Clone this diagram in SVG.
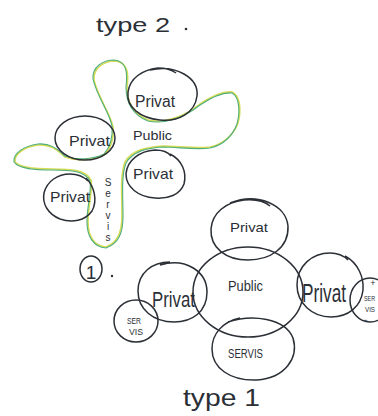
<svg xmlns="http://www.w3.org/2000/svg" width="378" height="416" viewBox="0 0 378 416">
<style>
.c{fill:none;stroke:#2b2f36;stroke-width:1.5}
.t{font-family:"Liberation Sans",Arial,sans-serif;fill:#2b2f36}
.g1{fill:none;stroke:#d6dc55;stroke-width:1.6;stroke-linejoin:round}
.g2{fill:none;stroke:#4fae7a;stroke-width:1.1;stroke-linejoin:round}
</style>
<rect width="378" height="416" fill="#ffffff"/>
<text class="t" x="96" y="32" font-size="21" textLength="74" lengthAdjust="spacingAndGlyphs">type 2</text>
<circle cx="186" cy="29" r="1.3" fill="#2b2f36"/>
<g id="connectors">
<path id="public-area" class="g1" d="M113,127 C110,112 98,98 94,80 C93,68 104,61 115,61 C127,62 129,72 127,88 C127,103 134,114 148,120 C165,124 185,116 200,104 C212,96 222,91 232,92 C241,96 241,112 238,123 C234,134 224,144 210,147 C195,149 178,146 163,146 C147,147 132,150 125,162 C120,175 122,195 122,215 C122,232 118,242 106,247 C94,246 88,236 88,222 C88,205 93,190 91,180 C86,170 72,169 52,169 C35,169 20,168 15,162 C14,154 24,147 38,145 C52,144 58,151 65,157 C76,161 92,161 104,155 C111,148 114,138 113,127 Z"/>
<path class="g2" d="M112,126 C109,111 97,97 93,79 C92,67 103,60 114,60 C126,61 128,71 126,87 C126,103 133,115 148,121 C165,125 185,117 200,105 C212,97 222,92 232,93 C240,97 240,113 237,124 C233,135 224,145 210,148 C195,150 178,147 163,147 C147,148 133,151 126,163 C121,176 123,196 123,216 C123,233 119,243 106,248 C93,247 87,236 87,222 C87,205 92,190 90,181 C85,171 72,170 52,170 C35,170 19,169 14,162 C13,153 24,146 38,144 C52,143 58,150 65,156 C76,160 92,160 104,154 C110,147 113,137 112,126 Z"/>
</g>
<g id="t2-privat-top">
<path class="c" d="M150,70 C176,64 199,78 197,96 C195,113 178,122 160,120 C140,118 126,107 128,92 C130,78 142,70 158,68 C168,68 172,70 176,73"/>
<text class="t" x="135" y="107" font-size="16" textLength="40" lengthAdjust="spacingAndGlyphs">Privat</text>
</g>
<g id="t2-privat-left">
<ellipse class="c" cx="85" cy="138" rx="30" ry="22"/>
<text class="t" x="69" y="146" font-size="15" textLength="41" lengthAdjust="spacingAndGlyphs">Privat</text>
</g>
<g id="t2-public">
<text class="t" x="133" y="140" font-size="13" textLength="39" lengthAdjust="spacingAndGlyphs">Public</text>
</g>
<g id="t2-privat-right">
<path class="c" d="M170,154 C182,160 187,172 184,184 C180,195 168,199 155,198 C138,197 126,187 126,174 C127,160 140,151 155,150 C163,150 168,152 171,156"/>
<text class="t" x="133" y="179" font-size="15" textLength="40" lengthAdjust="spacingAndGlyphs">Privat</text>
</g>
<g id="t2-privat-bottom">
<path class="c" d="M86,178 C94,186 98,200 92,211 C85,221 72,223 60,219 C48,214 42,204 44,193 C47,181 58,174 70,174 C78,174 84,177 88,181"/>
<text class="t" x="50" y="202" font-size="14" textLength="40" lengthAdjust="spacingAndGlyphs">Privat</text>
</g>
<g id="t2-servis">
<text class="t" font-size="10" text-anchor="middle"><tspan x="108" y="186">S</tspan><tspan x="108" y="197">e</tspan><tspan x="108" y="208">r</tspan><tspan x="108" y="219">v</tspan><tspan x="108" y="230">i</tspan><tspan x="108" y="241">s</tspan></text>
</g>
<g id="label-1">
<ellipse class="c" cx="91" cy="269" rx="11" ry="13"/>
<text class="t" x="91" y="279" font-size="19" text-anchor="middle">1</text>
<circle cx="112" cy="276" r="1.2" fill="#2b2f36"/>
</g>
<g id="t1-public">
<ellipse class="c" cx="248" cy="292" rx="55" ry="45"/>
<text class="t" x="228" y="291" font-size="15" textLength="35" lengthAdjust="spacingAndGlyphs">Public</text>
</g>
<g id="t1-privat-top">
<path class="c" d="M230,203 C258,192 286,205 288,226 C289,248 270,260 248,260 C226,260 210,248 211,229 C212,213 226,202 244,200 C255,199 263,200 270,206"/>
<text class="t" x="230" y="232" font-size="13" textLength="38" lengthAdjust="spacingAndGlyphs">Privat</text>
</g>
<g id="t1-privat-left">
<path class="c" d="M160,265 C186,257 207,272 207,292 C207,312 192,322 174,322 C153,322 138,309 138,291 C138,273 152,262 170,262"/>
<text class="t" x="152" y="307" font-size="22" textLength="43" lengthAdjust="spacingAndGlyphs">Privat</text>
</g>
<g id="t1-servis-left">
<ellipse class="c" cx="136" cy="321" rx="22" ry="21"/>
<text class="t" x="127" y="324" font-size="9" textLength="14" lengthAdjust="spacingAndGlyphs">SER</text>
<text class="t" x="129" y="335" font-size="9" textLength="14" lengthAdjust="spacingAndGlyphs">VIS</text>
</g>
<g id="t1-servis-bottom">
<path class="c" d="M228,322 C252,314 285,318 293,338 C299,358 285,378 257,380 C230,381 212,368 212,349 C212,334 222,322 240,318"/>
<text class="t" x="228" y="358" font-size="12" textLength="35" lengthAdjust="spacingAndGlyphs">SERVIS</text>
</g>
<g id="t1-privat-right">
<path class="c" d="M345,256 C358,263 364,277 363,290 C361,307 348,317 331,317 C312,317 297,303 297,285 C297,266 312,253 330,253 C338,253 343,255 348,260"/>
<text class="t" x="302" y="302" font-size="25" textLength="44" lengthAdjust="spacingAndGlyphs">Privat</text>
</g>
<g id="t1-servis-right">
<ellipse class="c" cx="370" cy="300" rx="20" ry="22"/>
<text class="t" x="373" y="286" font-size="9" text-anchor="middle">+</text>
<text class="t" x="364" y="301" font-size="8" textLength="11" lengthAdjust="spacingAndGlyphs">SER</text>
<text class="t" x="365" y="312" font-size="8" textLength="10" lengthAdjust="spacingAndGlyphs">VIS</text>
<text class="t" x="365" y="323" font-size="9" text-anchor="middle">−</text>
</g>
<text class="t" x="183" y="406" font-size="23" textLength="77" lengthAdjust="spacingAndGlyphs">type 1</text>
</svg>
